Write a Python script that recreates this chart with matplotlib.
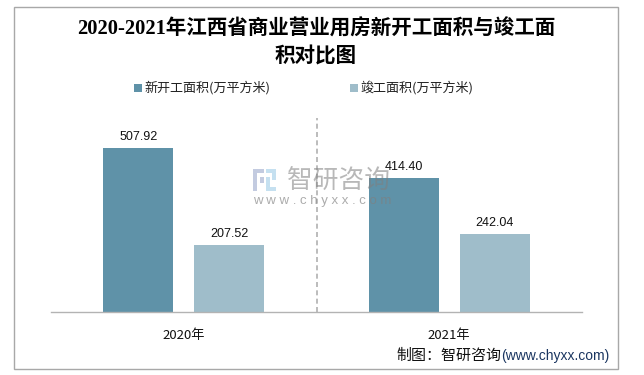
import matplotlib
matplotlib.use('Agg')
import matplotlib.pyplot as plt
from matplotlib.patches import Rectangle
import numpy as np

years = ['2020年', '2021年']
new_area = [507.92, 414.40]
done_area = [207.52, 242.04]
series_names = ['新开工面积(万平方米)', '竣工面积(万平方米)']
title = '2020-2021年江西省商业营业用房新开工面积与竣工面\n积对比图'

W, H = 644, 375
CJK = ['Noto Sans CJK SC', 'DejaVu Sans']
plt.rcParams['font.family'] = CJK

fig = plt.figure(figsize=(W / 100, H / 100), dpi=100)
ax = fig.add_axes([51 / W, 1 - 312 / H, 531 / W, 194 / H])

x = np.arange(len(years))
offset = 0.171
width = 0.264
ax.bar(x - offset, new_area, width, color='#5f92a8', zorder=2)
ax.bar(x + offset, done_area, width, color='#9fbdca', zorder=2)

for xi, v in zip(x, new_area):
    ax.annotate(f'{v:.2f}', (xi - offset, v), xytext=(0, 3.5), textcoords='offset points',
                ha='center', va='bottom', fontsize=9, family=['Liberation Sans'], color='#111111')
for xi, v in zip(x, done_area):
    ax.annotate(f'{v:.2f}', (xi + offset, v), xytext=(0, 3.5), textcoords='offset points',
                ha='center', va='bottom', fontsize=9, family=['Liberation Sans'], color='#111111')

ax.set_xlim(-0.5, 1.5)
ax.set_ylim(0, 600)
ax.set_yticks([])
ax.set_xticks(x)
ax.set_xticklabels(years, fontsize=9.5, color='#111111')
ax.tick_params(axis='x', length=0, pad=12)
for s in ['top', 'left', 'right']:
    ax.spines[s].set_visible(False)
ax.spines['bottom'].set_color('#b3b3b3')
ax.spines['bottom'].set_linewidth(1)

# divider between the two years
ax.axvline(0.5, color='#b0b0b0', linestyle='--', linewidth=1.2, dashes=(3, 2), zorder=1)

# outer frame
fig.add_artist(Rectangle((13.5 / W, 1 - 369 / H), 604 / W, 362.5 / H, fill=False,
                         edgecolor='#a8a8a8', linewidth=1, transform=fig.transFigure))

fig.text(316 / W, 1 - 43.5 / H, title, ha='center', va='center', fontsize=14.8, fontweight='bold',
         family=['Liberation Serif', 'Noto Sans CJK SC'], color='black', linespacing=1.5)

# legend drawn by hand so the swatches sit where the reference has them
for px, name, col in [(134, series_names[0], '#5f92a8'), (350, series_names[1], '#9fbdca')]:
    fig.add_artist(Rectangle((px / W, 1 - 92 / H), 7.5 / W, 8 / H, color=col, lw=0))
    fig.text((px + 10) / W, 1 - 88 / H, name, ha='left', va='center', fontsize=9.4, color='#222222')

# watermark
wm = '#7f7f7f'
fig.text(339 / W, 1 - 181 / H, '智研咨询', ha='center', va='center', fontsize=18.5,
         color=wm, alpha=0.55, fontweight='light', zorder=5)
fig.text(322.5 / W, 1 - 201 / H, 'w w w . c h y x x . c o m', ha='center', va='center', fontsize=9.5,
         color=wm, alpha=0.65, family=['Liberation Sans'], zorder=5)
for (px, py, w, h, col) in [(253, 169, 11, 4, '#c3cbe0'), (253, 169, 4, 22, '#c3cbe0'),
                            (260, 177, 4, 6, '#c3cbe0'), (266, 169, 10, 4, '#c5e0f0'),
                            (272, 169, 4, 11, '#c5e0f0'), (266, 177, 4, 14, '#c5e0f0'),
                            (266, 187, 10, 4, '#c5e0f0')]:
    fig.add_artist(Rectangle((px / W, 1 - (py + h) / H), w / W, h / H, color=col, lw=0, zorder=5))

# source line
fig.text(396 / W, 1 - 356 / H, '制图：智研咨询', ha='left', va='center', fontsize=10.8, color='#111111')
fig.text(501 / W, 1 - 356 / H, '(www.chyxx.com)', ha='left', va='center', fontsize=10,
         family=['Liberation Sans'], color='#1a3560')

fig.savefig('out.png', dpi=100)
